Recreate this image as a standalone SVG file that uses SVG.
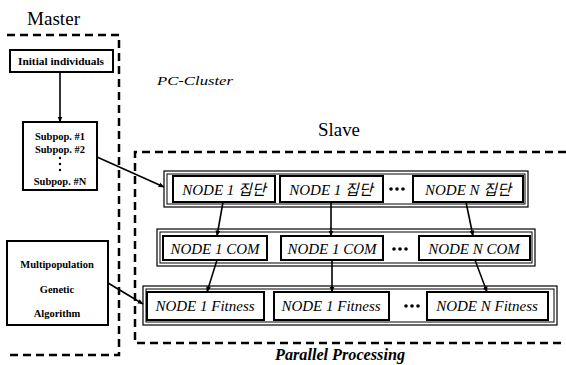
<svg xmlns="http://www.w3.org/2000/svg" width="566" height="365" viewBox="0 0 566 365">
<defs>
<marker id="ah" viewBox="0 0 10 10" refX="9" refY="5" markerWidth="6" markerHeight="6" markerUnits="userSpaceOnUse" orient="auto">
<path d="M0,1 L10,5 L0,9 z" fill="#000"/>
</marker>
</defs>
<style>
.dash{fill:none;stroke:#000;stroke-width:2.5;stroke-dasharray:8,5}
.outer{fill:#fff;stroke:#000;stroke-width:1.2}
.outer2{fill:none;stroke:#000;stroke-width:1}
.inner{fill:#fff;stroke:#000;stroke-width:2}
.mbox{fill:#fff;stroke:#000;stroke-width:2}
text{font-family:"Liberation Serif","Times New Roman",Tinos,"Noto Serif","DejaVu Serif","Noto Sans CJK KR",serif;fill:#000}
.node{font-style:italic;font-size:15px;text-anchor:middle}
.small{font-weight:bold;font-size:10.5px;text-anchor:middle}
.title{font-size:18px}
.lab{font-style:italic}
.conn{fill:none;stroke:#000;stroke-width:1.6}
</style>
<rect width="566" height="365" fill="#fff"/>

<!-- regions -->
<g id="master-region">
<path class="dash" d="M7,35 H119 V355 H10"/>
<text class="title" x="27" y="25" textLength="53" lengthAdjust="spacingAndGlyphs">Master</text>
</g>
<g id="slave-region">
<path class="dash" d="M566,152 H135 V343 H566"/>
<text class="title" x="318" y="136" textLength="42" lengthAdjust="spacingAndGlyphs">Slave</text>
</g>
<text class="lab" x="157" y="85" font-size="13" textLength="76" lengthAdjust="spacingAndGlyphs">PC-Cluster</text>
<text class="lab" x="275" y="360" font-size="16" font-weight="bold" textLength="130" lengthAdjust="spacingAndGlyphs">Parallel Processing</text>

<!-- master nodes -->
<g id="initial">
<rect class="mbox" x="10" y="50" width="103" height="22"/>
<text class="small" x="61" y="65" font-size="10" textLength="86" lengthAdjust="spacingAndGlyphs">Initial individuals</text>
</g>
<g id="subpop">
<rect class="mbox" x="23" y="122" width="74" height="68"/>
<text class="small" x="60" y="140">Subpop. #1</text>
<text class="small" x="60" y="153">Subpop. #2</text>
<circle cx="60" cy="158" r="1.2"/>
<circle cx="60" cy="164" r="1.2"/>
<circle cx="60" cy="170" r="1.2"/>
<text class="small" x="60" y="185">Subpop. #N</text>
</g>
<g id="mga">
<rect class="mbox" x="7" y="241" width="101" height="84"/>
<text class="small" x="57" y="268" font-size="11">Multipopulation</text>
<text class="small" x="57" y="293" font-size="11">Genetic</text>
<text class="small" x="57" y="317" font-size="11">Algorithm</text>
</g>

<!-- row 1 -->
<g id="row1">
<rect class="outer" x="164" y="171" width="364" height="36"/>
<rect class="outer2" x="167" y="174" width="358" height="30"/>
<g id="n1-pop1"><rect class="inner" x="173" y="176" width="102" height="26"/><text class="node" x="224" y="195">NODE 1 집단</text></g>
<g id="n1-pop2"><rect class="inner" x="280" y="176" width="103" height="26"/><text class="node" x="331" y="195">NODE 1 집단</text></g>
<g id="dots1"><circle cx="391" cy="189" r="1.8"/><circle cx="397" cy="189" r="1.8"/><circle cx="403" cy="189" r="1.8"/></g>
<g id="nN-pop"><rect class="inner" x="413" y="176" width="110" height="26"/><text class="node" x="468" y="195">NODE N 집단</text></g>
</g>

<!-- row 2 -->
<g id="row2">
<rect class="outer" x="157" y="229" width="378" height="37"/>
<rect class="outer2" x="160" y="232" width="372" height="31"/>
<g id="n1-com1"><rect class="inner" x="163" y="236" width="104" height="24"/><text class="node" x="215" y="254">NODE 1 COM</text></g>
<g id="n1-com2"><rect class="inner" x="281" y="236" width="102" height="24"/><text class="node" x="332" y="254">NODE 1 COM</text></g>
<g id="dots2"><circle cx="394" cy="249" r="1.8"/><circle cx="400" cy="249" r="1.8"/><circle cx="406" cy="249" r="1.8"/></g>
<g id="nN-com"><rect class="inner" x="419" y="236" width="111" height="24"/><text class="node" x="474" y="254">NODE N COM</text></g>
</g>

<!-- row 3 -->
<g id="row3">
<rect class="outer" x="143" y="286" width="414" height="39"/>
<rect class="outer2" x="146" y="289" width="408" height="33"/>
<g id="n1-fit1"><rect class="inner" x="147" y="292" width="117" height="28"/><text class="node" x="205" y="311">NODE 1 Fitness</text></g>
<g id="n1-fit2"><rect class="inner" x="274" y="292" width="115" height="28"/><text class="node" x="331" y="311">NODE 1 Fitness</text></g>
<g id="dots3"><circle cx="406" cy="306" r="1.8"/><circle cx="412" cy="306" r="1.8"/><circle cx="418" cy="306" r="1.8"/></g>
<g id="nN-fit"><rect class="inner" x="427" y="292" width="121" height="28"/><text class="node" x="487" y="311">NODE N Fitness</text></g>
</g>

<!-- connectors -->
<g id="connectors">
<line class="conn" x1="60" y1="72" x2="60" y2="122" marker-end="url(#ah)"/>
<line class="conn" x1="97" y1="157" x2="164" y2="187" marker-end="url(#ah)"/>
<line class="conn" x1="108" y1="283" x2="143" y2="304" marker-end="url(#ah)"/>
<line class="conn" x1="223" y1="202" x2="217" y2="236" marker-end="url(#ah)"/>
<line class="conn" x1="331" y1="202" x2="331" y2="236" marker-end="url(#ah)"/>
<line class="conn" x1="466" y1="202" x2="473" y2="236" marker-end="url(#ah)"/>
<line class="conn" x1="217" y1="260" x2="207" y2="292" marker-end="url(#ah)"/>
<line class="conn" x1="332" y1="260" x2="332" y2="292" marker-end="url(#ah)"/>
<line class="conn" x1="475" y1="260" x2="487" y2="292" marker-end="url(#ah)"/>
</g>
</svg>
